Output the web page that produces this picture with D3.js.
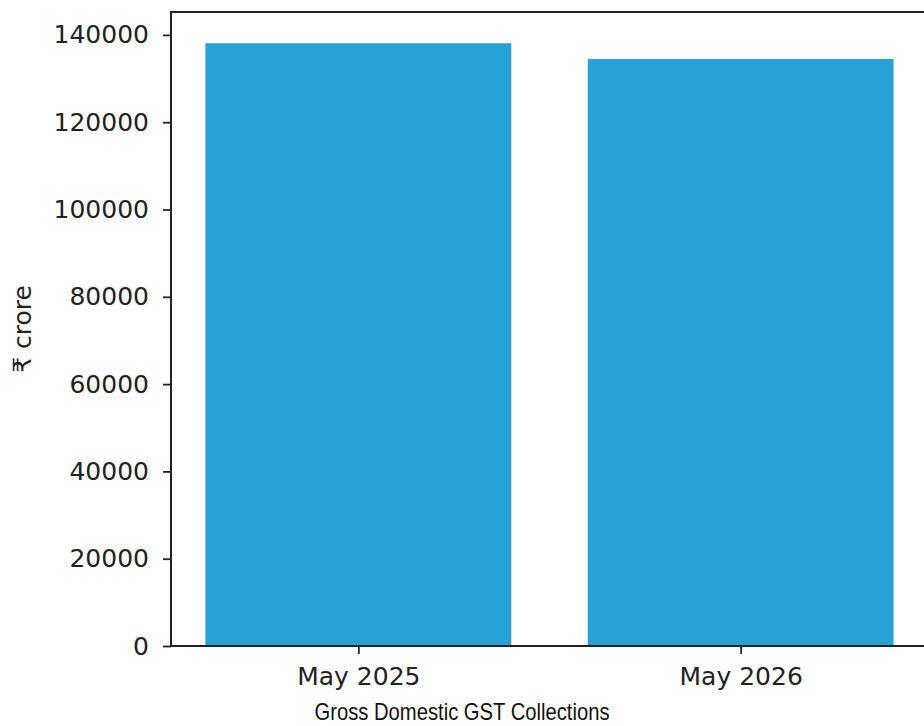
<!DOCTYPE html>
<html>
<head>
<meta charset="utf-8">
<script src="https://cdn.jsdelivr.net/npm/d3@7"></script>
<style>
  body { margin: 0; background: #fff; }
  svg { display: block; }
</style>
</head>
<body>
<svg id="chart" width="924" height="726"></svg>
<script>
// data
const months = ["May 2025", "May 2026"];
const collections = [138100, 134500];
const yTicks = [0, 20000, 40000, 60000, 80000, 100000, 120000, 140000];

const svg = d3.select("#chart");

// plot area (right spine falls just past the picture edge, as in the reference)
const plotLeft = 171, plotRight = 928, plotTop = 12, plotBottom = 646;

const x = d3.scaleLinear().domain([-0.49, 1.49]).range([plotLeft, plotRight]);
const y = d3.scaleLinear().domain([0, 145250]).range([plotBottom, plotTop]);
const barW = 0.8;

const chart = svg.append("g").attr("font-family", "DejaVu Sans, sans-serif");

chart
  .append("g")
  .selectAll("rect")
  .data(collections)
  .join("rect")
  .attr("x", (d, i) => x(i - barW / 2))
  .attr("width", (d, i) => x(i + barW / 2) - x(i - barW / 2))
  .attr("y", (d) => y(d))
  .attr("height", (d) => y(0) - y(d))
  .attr("fill", "#28a1d6");

// y axis
const yAxis = chart
  .append("g")
  .attr("transform", `translate(${plotLeft},0)`)
  .call(d3.axisLeft(y).tickValues(yTicks).tickSize(8).tickPadding(14).tickFormat(d3.format("d")));
yAxis.select(".domain").remove();
yAxis.selectAll(".tick line").attr("stroke", "#222").attr("stroke-width", 1.8);
yAxis.selectAll(".tick text")
  .attr("font-size", 25)
  .attr("fill", "#222")
  .attr("font-family", "DejaVu Sans, sans-serif");

// x axis
const xAxis = chart
  .append("g")
  .attr("transform", `translate(0,${plotBottom})`)
  .call(d3.axisBottom(x).tickValues(d3.range(months.length)).tickSize(8).tickPadding(13).tickFormat((i) => months[i]));
xAxis.select(".domain").remove();
xAxis.selectAll(".tick line").attr("stroke", "#222").attr("stroke-width", 1.8);
xAxis.selectAll(".tick text")
  .attr("font-size", 25)
  .attr("fill", "#222")
  .attr("font-family", "DejaVu Sans, sans-serif");

// frame: left, top, bottom spines
chart
  .append("path")
  .attr("d", `M${plotRight},${plotTop}H${plotLeft}V${plotBottom}H${plotRight}`)
  .attr("fill", "none")
  .attr("stroke", "#222")
  .attr("stroke-width", 2);

// y label
chart
  .append("text")
  .attr("transform", `translate(31,${(plotTop + plotBottom) / 2}) rotate(-90)`)
  .attr("text-anchor", "middle")
  .attr("font-size", 25)
  .attr("fill", "#222")
  .text("₹ crore");

// caption under the chart
svg
  .append("text")
  .attr("x", 462)
  .attr("y", 720)
  .attr("text-anchor", "middle")
  .attr("font-family", "Liberation Sans, Arial, sans-serif")
  .attr("font-size", 24)
  .attr("textLength", 295)
  .attr("lengthAdjust", "spacingAndGlyphs")
  .attr("fill", "#111")
  .text("Gross Domestic GST Collections");
</script>
</body>
</html>
